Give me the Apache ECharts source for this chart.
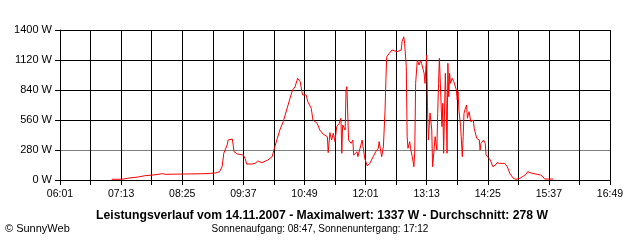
<!DOCTYPE html>
<html>
<head>
<meta charset="utf-8">
<script src="https://cdn.jsdelivr.net/npm/echarts@6/dist/echarts.min.js"></script>
<style>
html,body{margin:0;padding:0;background:#fff;}
#c{width:640px;height:240px;}
</style>
</head>
<body>
<div id="c"></div>
<script>
var startTime = '06:01';
var xTickLabels = ['06:01','07:13','08:25','09:37','10:49','12:01','13:13','14:25','15:37','16:49'];
var yTickLabels = ['0 W','280 W','560 W','840 W','1120 W','1400 W'];

var times = ['07:02','07:14','07:23','07:33','07:41','07:51','08:02','08:05','08:28','08:52',
'09:04','09:09','09:12','09:14','09:18','09:19','09:21','09:24','09:25','09:26',
'09:30','09:32','09:37','09:39','09:41','09:47','09:51','09:54','09:59','10:01',
'10:06','10:11','10:13','10:17','10:20','10:24','10:28','10:32','10:35','10:38',
'10:41','10:44','10:46','10:47','10:51','10:53','10:57','10:59','11:04','11:07',
'11:11','11:16','11:17','11:19','11:21','11:23','11:25','11:27','11:30','11:32',
'11:33','11:34','11:37','11:38','11:39','11:40','11:41','11:44','11:46','11:47',
'11:51','11:52','11:54','11:57','11:59','12:00','12:03','12:06','12:10','12:13',
'12:16','12:17','12:19','12:20','12:22','12:24','12:25','12:26','12:29','12:32',
'12:34','12:38','12:40','12:43','12:44','12:46','12:47','12:49','12:50','12:51',
'12:53','12:54','12:56','12:58','12:59','13:00','13:02','13:04','13:06','13:07',
'13:10','13:11','13:13','13:14','13:15','13:17','13:19','13:20','13:23','13:25',
'13:26','13:27','13:28','13:31','13:32','13:33','13:35','13:36','13:37','13:38',
'13:39','13:40','13:41','13:43','13:45','13:48','13:49','13:50','13:51','13:53',
'13:55','13:56','13:57','13:58','14:00','14:01','14:03','14:05','14:08','14:09',
'14:11','14:12','14:15','14:16','14:17','14:19','14:20','14:22','14:23','14:25',
'14:28','14:31','14:34','14:36','14:39','14:45','14:48','14:51','14:55','14:58',
'15:03','15:07','15:10','15:12','15:16','15:18','15:27','15:30','15:32','15:42'];

var watts = [7,7,19,28,40,47,59,53,56,59,
65,78,124,250,327,373,358,382,327,264,
243,233,233,202,149,149,155,177,162,180,
187,218,280,389,467,544,653,762,840,871,
949,918,824,793,793,731,669,560,529,467,
429,404,255,442,373,436,358,498,529,576,
249,513,467,840,871,887,373,342,373,233,
264,218,280,373,358,202,131,155,218,264,
296,358,264,218,311,653,949,1151,1182,1213,
1220,1198,1189,1213,1291,1337,1276,1058,404,296,
358,296,218,124,280,902,1120,1073,1113,1089,
996,902,1167,684,373,625,467,124,404,280,
622,902,1136,498,716,249,996,716,249,1089,
778,996,902,949,918,840,747,824,653,498,
218,404,622,653,700,576,638,544,560,482,
467,389,373,280,342,327,373,342,233,218,
187,124,140,162,155,155,124,62,16,6,
16,37,53,78,65,47,47,31,9,9];

function toMin(t){var p=t.split(':');return (+p[0])*60+(+p[1]);}
var t0 = toMin(startTime);
var span = toMin(xTickLabels[xTickLabels.length-1]) - t0;
var labelStep = toMin(xTickLabels[1]) - t0;
var data = times.map(function(t,i){return [toMin(t)-t0, watts[i]];});

var chart = echarts.init(document.getElementById('c'), null, {renderer:'canvas'});
var FONT = '"Liberation Sans", Arial, sans-serif';
chart.setOption({
  animation:false,
  backgroundColor:'#fff',
  grid:{left:60,right:30,top:30,bottom:60,containLabel:false},
  xAxis:{
    type:'value', min:0, max:span, interval:labelStep/2,
    axisLine:{show:true,lineStyle:{color:'#000',width:1}},
    axisTick:{show:true,inside:false,length:5,lineStyle:{color:'#000'}},
    splitLine:{show:true,lineStyle:{color:'#000',width:1}},
    axisLabel:{
      margin:9, color:'#000', fontSize:10.5, fontFamily:FONT,
      formatter:function(v){
        if (v % labelStep !== 0) return '';
        return xTickLabels[Math.round(v/labelStep)] || '';
      }
    }
  },
  yAxis:{
    type:'value', min:0, max:1400, interval:280,
    axisLine:{show:true,lineStyle:{color:'#000',width:1}},
    axisTick:{show:true,inside:false,length:5,lineStyle:{color:'#000'}},
    splitLine:{show:true,lineStyle:{color:['#000','#808080','#000','#000','#000','#000'],width:1}},
    axisLabel:{
      margin:8, color:'#000', fontSize:11, fontFamily:FONT,
      formatter:function(v){return yTickLabels[Math.round(v/280)];}
    }
  },
  series:[{
    type:'line', data:data, showSymbol:false, symbol:'none',
    lineStyle:{color:'#ff0000',width:1}, itemStyle:{color:'#ff0000'},
    z:5
  }],
  graphic:[
    {type:'text', x:322, y:216, style:{text:'Leistungsverlauf vom 14.11.2007 - Maximalwert: 1337 W - Durchschnitt: 278 W', font:'bold 12.2px '+FONT, fill:'#000', align:'center', verticalAlign:'middle'}},
    {type:'text', x:320, y:229, style:{text:'Sonnenaufgang: 08:47, Sonnenuntergang: 17:12', font:'10px '+FONT, fill:'#000', align:'center', verticalAlign:'middle'}},
    {type:'text', x:5, y:229, style:{text:'© SunnyWeb', font:'11px '+FONT, fill:'#000', align:'left', verticalAlign:'middle'}}
  ]
});
</script>
</body>
</html>
